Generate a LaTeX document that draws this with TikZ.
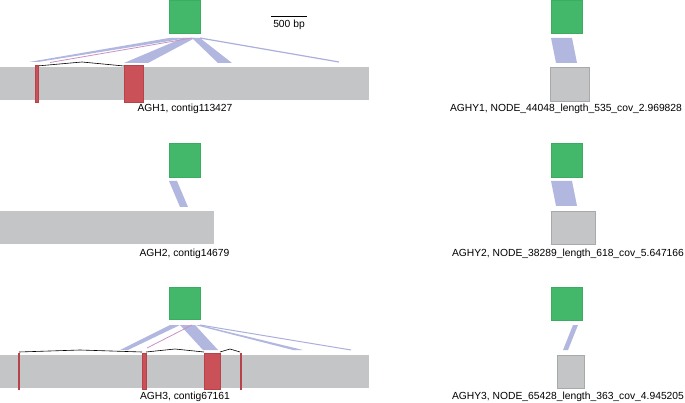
\documentclass[tikz,border=0pt]{standalone}
\usepackage{fontspec}
\setmainfont{Liberation Sans}
\begin{document}
\begin{tikzpicture}[x=1pt,y=-1pt,
  font=\fontsize{10.3}{12}\selectfont,
  greenbox/.style={fill=gbfill,draw=gbdraw,line width=0.6pt},
  graybar/.style={fill=barfill,draw=none},
  graybox/.style={fill=barfill,draw=boxdraw,line width=0.6pt},
  exon/.style={fill=exfill,draw=exdraw,line width=0.5pt},
  aln/.style={fill=alnfill,draw=none,opacity=0.9},
  alnline/.style={draw=alnfill,line width=1.2pt},
  pinkline/.style={draw=pinkc,line width=0.8pt},
  intron/.style={draw=black,line width=0.6pt,line join=round},
  lbl/.style={inner sep=0pt,anchor=center}]
\definecolor{gbfill}{HTML}{44B86A}
\definecolor{gbdraw}{HTML}{3AAD5E}
\definecolor{barfill}{HTML}{C4C5C7}
\definecolor{boxdraw}{HTML}{A8A9AB}
\definecolor{exfill}{HTML}{CB5158}
\definecolor{exdraw}{HTML}{B9424A}
\definecolor{alnfill}{HTML}{AAAFDB}
\definecolor{pinkc}{HTML}{C792C6}
\useasboundingbox (0,0) rectangle (685,403);

% ---------- AGH1 ----------
\fill[graybar] (0,67) rectangle (369,100);
\fill[aln] (29,62) -- (38,62) -- (188,38) -- (169,38) -- cycle;
\draw[alnline] (200,38) -- (339,62);
\fill[aln] (124,63) -- (148,63) -- (195,38) -- (183,38) -- cycle;
\fill[aln] (218,63) -- (232,63) -- (200,38) -- (192,38) -- cycle;
\draw[pinkline] (192,38) -- (50,62.5);
\draw[intron] (37,66) -- (82,62) -- (124,66);
\node[exon,minimum width=3pt,minimum height=37pt,inner sep=0pt] (e11) at (37,83.5) {};
\node[exon,minimum width=19pt,minimum height=37pt,inner sep=0pt] (e12) at (133.5,83.5) {};
\node[greenbox,minimum width=31pt,minimum height=33pt,inner sep=0pt] (G1) at (184.5,17) {};
\node[lbl] (L1) at (185,109) {AGH1, contig113427};
\draw[black,line width=0.7pt] (271,16) coordinate (sb1) -- (307,16) coordinate (sb2);
\node[lbl] (sbl) at (289,25) {500 bp};

% ---------- AGH2 ----------
\node[graybar,minimum width=214pt,minimum height=33pt,inner sep=0pt] (B2) at (107,227.5) {};
\fill[aln] (169,181) -- (177,181) -- (188,207) -- (180,207) -- cycle;
\node[greenbox,minimum width=31pt,minimum height=34pt,inner sep=0pt] (G2) at (184.5,160) {};
\node[lbl] (L2) at (184.5,254) {AGH2, contig14679};

% ---------- AGH3 ----------
\fill[graybar] (0,355) rectangle (369,388);
\fill[aln] (120,350) -- (128,350) -- (180,325) -- (170,325) -- cycle;
\fill[aln] (203,350) -- (218,350) -- (195,325) -- (180,325) -- cycle;
\fill[aln] (293,350) -- (303,350) -- (200,325) -- (195,325) -- cycle;
\draw[alnline,line width=1pt] (200,325) -- (351,350);
\draw[pinkline] (192,325) -- (147,348);
\draw[intron] (19,352) -- (80,350) -- (142,352);
\draw[intron] (146,352) -- (175,349) -- (204,352);
\draw[intron] (220,352) -- (230,349) -- (240,352);
\node[exon,minimum width=1.5pt,minimum height=36pt,inner sep=0pt] (e31) at (18.5,371) {};
\node[exon,minimum width=4pt,minimum height=36pt,inner sep=0pt] (e32) at (144,371) {};
\node[exon,minimum width=16pt,minimum height=36pt,inner sep=0pt] (e33) at (212,371) {};
\node[exon,minimum width=1.5pt,minimum height=36pt,inner sep=0pt] (e34) at (240.5,371) {};
\node[greenbox,minimum width=31pt,minimum height=32pt,inner sep=0pt] (G3) at (184.5,303) {};
\node[lbl] (L3) at (185,397) {AGH3, contig67161};

% ---------- AGHY1 ----------
\node[greenbox,minimum width=31pt,minimum height=33pt,inner sep=0pt] (H1) at (566.5,17) {};
\fill[aln] (551,38) -- (572,38) -- (577,63) -- (556,63) -- cycle;
\node[graybox,minimum width=39pt,minimum height=34pt,inner sep=0pt] (Q1) at (569.5,84) {};
\node[lbl] (M1) at (566,109) {AGHY1, NODE\_44048\_length\_535\_cov\_2.969828};

% ---------- AGHY2 ----------
\node[greenbox,minimum width=31pt,minimum height=34pt,inner sep=0pt] (H2) at (566.5,160) {};
\fill[aln] (551,181) -- (572,181) -- (577,206) -- (556,206) -- cycle;
\node[graybox,minimum width=44pt,minimum height=33pt,inner sep=0pt] (Q2) at (573,227.5) {};
\node[lbl] (M2) at (568,254) {AGHY2, NODE\_38289\_length\_618\_cov\_5.647166};

% ---------- AGHY3 ----------
\node[greenbox,minimum width=31pt,minimum height=33pt,inner sep=0pt] (H3) at (566.5,303.5) {};
\fill[aln] (573,325) -- (578,325) -- (568,350) -- (563,350) -- cycle;
\node[graybox,minimum width=27pt,minimum height=33pt,inner sep=0pt] (Q3) at (570.5,371.5) {};
\node[lbl] (M3) at (568,397) {AGHY3, NODE\_65428\_length\_363\_cov\_4.945205};
\end{tikzpicture}
\end{document}
